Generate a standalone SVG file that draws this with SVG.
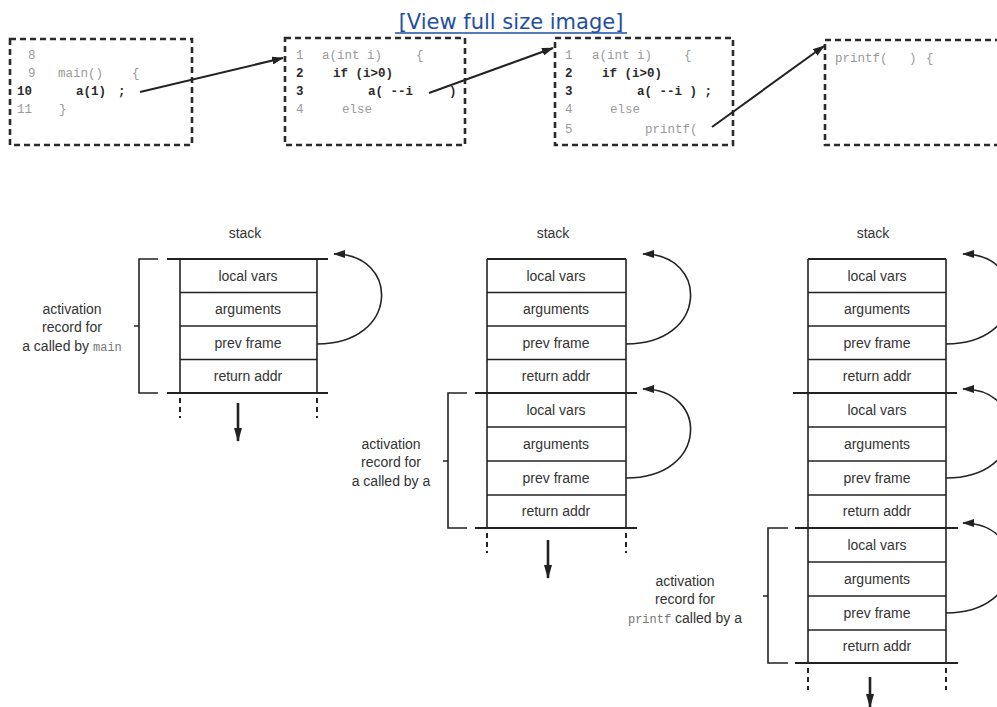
<svg xmlns="http://www.w3.org/2000/svg" width="997" height="707" viewBox="0 0 997 707">
<style>
.code{font-family:"Liberation Mono","DejaVu Sans Mono",monospace;font-size:12.5px;fill:#9a9a9a}
.b{font-weight:bold;fill:#2a2a2a}
.box{fill:none;stroke:#2a2a2a;stroke-width:2.6;stroke-dasharray:6 4}
.lbl{font-family:"Liberation Sans",Arial,sans-serif;font-size:14px;fill:#333;text-anchor:middle}
.mono{font-family:"Liberation Mono",monospace;font-size:12px;fill:#777}
.ln{stroke:#222;stroke-width:1.6;fill:none}
.thick{stroke:#222;stroke-width:2.2;fill:none}
.arr{stroke:#222;stroke-width:2;fill:none;marker-end:url(#ah)}
.curve{stroke:#222;stroke-width:1.6;fill:none;marker-end:url(#ah2)}
.dash{stroke:#222;stroke-width:2;stroke-dasharray:5 4;fill:none}
.down{stroke:#222;stroke-width:2.6;fill:none;marker-end:url(#ah3)}
</style>
<defs>
<marker id="ah" markerWidth="12" markerHeight="8" refX="11" refY="4" orient="auto" markerUnits="userSpaceOnUse"><path d="M0,0 L12,4 L0,8 z" fill="#222"/></marker>
<marker id="ah2" markerWidth="12" markerHeight="8" refX="11" refY="4" orient="auto" markerUnits="userSpaceOnUse"><path d="M0,0 L12,4 L0,8 z" fill="#222"/></marker>
<marker id="ah3" markerWidth="14" markerHeight="8" refX="13" refY="4" orient="auto" markerUnits="userSpaceOnUse"><path d="M0,0 L14,4 L0,8 z" fill="#222"/></marker>
</defs>
<rect width="997" height="707" fill="#fff"/>

<g id="link">
<text x="511" y="29" font-family="DejaVu Sans,Verdana,sans-serif" font-size="21" fill="#1f4fa3" text-anchor="middle">[View full size image]</text>
<line x1="395" y1="33" x2="627" y2="33" stroke="#1f4fa3" stroke-width="1.3"/>
</g>

<g id="code1">
<rect class="box" x="10" y="39" width="182" height="106"/>
<text class="code" x="28" y="59">8</text>
<text class="code" x="28" y="77">9</text><text class="code" x="58" y="77">main()</text><text class="code" x="132" y="77">{</text>
<text class="code b" x="17" y="95">10</text><text class="code b" x="76" y="95">a(1)</text><text class="code b" x="118" y="95">;</text>
<text class="code" x="17" y="113">11</text><text class="code" x="59" y="113">}</text>
</g>

<g id="code2">
<rect class="box" x="285" y="38" width="180" height="107"/>
<text class="code" x="296" y="59">1</text><text class="code" x="322" y="59" xml:space="preserve">a(int i)</text><text class="code" x="416" y="59">{</text>
<text class="code b" x="296" y="77">2</text><text class="code b" x="333" y="77">if (i&gt;0)</text>
<text class="code b" x="296" y="95">3</text><text class="code b" x="368" y="95" xml:space="preserve">a( --i</text><text class="code b" x="449" y="95">)</text>
<text class="code" x="296" y="113">4</text><text class="code" x="342" y="113">else</text>
</g>

<g id="code3">
<rect class="box" x="555" y="38" width="178" height="107"/>
<text class="code" x="565" y="59">1</text><text class="code" x="592" y="59">a(int i)</text><text class="code" x="684" y="59">{</text>
<text class="code b" x="565" y="77">2</text><text class="code b" x="602" y="77">if (i&gt;0)</text>
<text class="code b" x="565" y="95">3</text><text class="code b" x="637" y="95" xml:space="preserve">a( --i ) ;</text>
<text class="code" x="565" y="113">4</text><text class="code" x="610" y="113">else</text>
<text class="code" x="565" y="133">5</text><text class="code" x="645" y="133">printf(</text>
</g>

<g id="code4">
<rect class="box" x="825" y="40" width="190" height="105"/>
<text class="code" x="835" y="62">printf(</text><text class="code" x="909" y="62">)</text><text class="code" x="926" y="62">{</text>
</g>

<g id="stack1">
<text class="lbl" x="245" y="238">stack</text>
<line class="ln" x1="180" y1="259" x2="180" y2="393"/>
<line class="ln" x1="317" y1="259" x2="317" y2="393"/>
<line class="thick" x1="167" y1="259" x2="328" y2="259"/>
<line class="ln" x1="180" y1="292.5" x2="317" y2="292.5"/>
<line class="ln" x1="180" y1="326" x2="317" y2="326"/>
<line class="ln" x1="180" y1="359.5" x2="317" y2="359.5"/>
<line class="thick" x1="167" y1="393" x2="328" y2="393"/>
<text class="lbl" x="248" y="281">local vars</text>
<text class="lbl" x="248" y="314">arguments</text>
<text class="lbl" x="248" y="348">prev frame</text>
<text class="lbl" x="248" y="381">return addr</text>
<path class="ln" d="M158,259 H139 V393 H158 M139,326 H134"/>
<text class="lbl" x="72" y="314">activation</text>
<text class="lbl" x="72" y="332">record for</text>
<text class="lbl" x="72" y="351">a called by <tspan class="mono">main</tspan></text>
<line class="dash" x1="180" y1="398" x2="180" y2="418"/>
<line class="dash" x1="317" y1="398" x2="317" y2="418"/>
</g>

<g id="stack2">
<text class="lbl" x="553" y="238">stack</text>
<line class="ln" x1="487" y1="259" x2="487" y2="528"/>
<line class="ln" x1="626" y1="259" x2="626" y2="528"/>
<line class="thick" x1="487" y1="259" x2="626" y2="259"/>
<line class="ln" x1="487" y1="292.5" x2="626" y2="292.5"/>
<line class="ln" x1="487" y1="326" x2="626" y2="326"/>
<line class="ln" x1="487" y1="359.5" x2="626" y2="359.5"/>
<line class="thick" x1="475" y1="393" x2="637" y2="393"/>
<line class="ln" x1="487" y1="427" x2="626" y2="427"/>
<line class="ln" x1="487" y1="461" x2="626" y2="461"/>
<line class="ln" x1="487" y1="495" x2="626" y2="495"/>
<line class="thick" x1="475" y1="528" x2="637" y2="528"/>
<text class="lbl" x="556" y="281">local vars</text>
<text class="lbl" x="556" y="314">arguments</text>
<text class="lbl" x="556" y="348">prev frame</text>
<text class="lbl" x="556" y="381">return addr</text>
<text class="lbl" x="556" y="415">local vars</text>
<text class="lbl" x="556" y="449">arguments</text>
<text class="lbl" x="556" y="483">prev frame</text>
<text class="lbl" x="556" y="516">return addr</text>
<path class="ln" d="M467,393 H448 V528 H467 M448,461 H443"/>
<text class="lbl" x="391" y="449">activation</text>
<text class="lbl" x="391" y="467">record for</text>
<text class="lbl" x="391" y="486">a called by a</text>
<line class="dash" x1="487" y1="533" x2="487" y2="553"/>
<line class="dash" x1="626" y1="533" x2="626" y2="553"/>
</g>

<g id="stack3">
<text class="lbl" x="873" y="238">stack</text>
<line class="ln" x1="808" y1="259" x2="808" y2="663"/>
<line class="ln" x1="946" y1="259" x2="946" y2="663"/>
<line class="thick" x1="808" y1="259" x2="946" y2="259"/>
<line class="ln" x1="808" y1="292.5" x2="946" y2="292.5"/>
<line class="ln" x1="808" y1="326" x2="946" y2="326"/>
<line class="ln" x1="808" y1="359.5" x2="946" y2="359.5"/>
<line class="thick" x1="793" y1="393" x2="957" y2="393"/>
<line class="ln" x1="808" y1="427" x2="946" y2="427"/>
<line class="ln" x1="808" y1="461" x2="946" y2="461"/>
<line class="ln" x1="808" y1="495" x2="946" y2="495"/>
<line class="thick" x1="795" y1="528" x2="958" y2="528"/>
<line class="ln" x1="808" y1="562" x2="946" y2="562"/>
<line class="ln" x1="808" y1="596" x2="946" y2="596"/>
<line class="ln" x1="808" y1="630" x2="946" y2="630"/>
<line class="thick" x1="795" y1="663" x2="958" y2="663"/>
<text class="lbl" x="877" y="281">local vars</text>
<text class="lbl" x="877" y="314">arguments</text>
<text class="lbl" x="877" y="348">prev frame</text>
<text class="lbl" x="877" y="381">return addr</text>
<text class="lbl" x="877" y="415">local vars</text>
<text class="lbl" x="877" y="449">arguments</text>
<text class="lbl" x="877" y="483">prev frame</text>
<text class="lbl" x="877" y="516">return addr</text>
<text class="lbl" x="877" y="550">local vars</text>
<text class="lbl" x="877" y="584">arguments</text>
<text class="lbl" x="877" y="618">prev frame</text>
<text class="lbl" x="877" y="651">return addr</text>
<path class="ln" d="M788,528 H768 V663 H788 M768,596 H763"/>
<text class="lbl" x="685" y="586">activation</text>
<text class="lbl" x="685" y="604">record for</text>
<text class="lbl" x="685" y="623"><tspan class="mono">printf</tspan> called by a</text>
<line class="dash" x1="808" y1="668" x2="808" y2="690"/>
<line class="dash" x1="946" y1="668" x2="946" y2="690"/>
</g>

<g id="connectors">
<line class="arr" x1="140" y1="92" x2="283" y2="58"/>
<line class="arr" x1="429" y1="93" x2="553" y2="48"/>
<line class="arr" x1="712" y1="127" x2="824" y2="46"/>
<path class="curve" d="M317,344 C400,344 400,254 334,254"/>
<path class="curve" d="M626,344 C709,344 709,254 643,254"/>
<path class="curve" d="M626,478 C709,478 709,389 643,389"/>
<path class="curve" d="M946,344 C1029,344 1029,254 963,254"/>
<path class="curve" d="M946,478 C1029,478 1029,389 963,389"/>
<path class="curve" d="M946,613 C1029,613 1029,523 963,523"/>
<line class="down" x1="238" y1="403" x2="238" y2="441"/>
<line class="down" x1="548" y1="540" x2="548" y2="578"/>
<line class="down" x1="870" y1="677" x2="870" y2="707"/>
</g>
</svg>
